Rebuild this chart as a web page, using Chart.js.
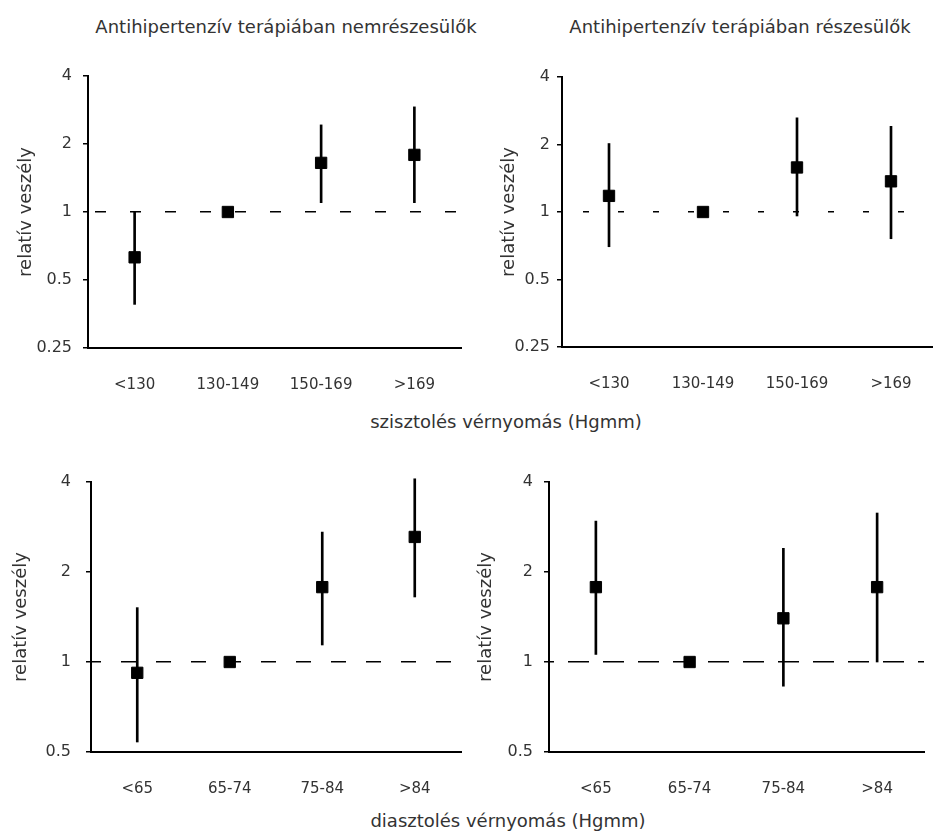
<!DOCTYPE html>
<html>
<head>
<meta charset="utf-8">
<script src="https://cdn.jsdelivr.net/npm/chart.js@4/dist/chart.umd.min.js"></script>
<style>
  html, body { margin: 0; padding: 0; background: #fff; overflow: hidden; }
  body { width: 933px; height: 835px; position: relative; font-family: "DejaVu Sans", sans-serif; color: #333; }
  .panel { position: absolute; }
  .label { position: absolute; white-space: nowrap; transform: translate(-50%, -50%); font-size: 18px; }
</style>
</head>
<body>
<div class="label" style="left:286px; top:26px;">Antihipertenzív terápiában nemrészesülők</div>
<div class="label" style="left:740px; top:26px;">Antihipertenzív terápiában részesülők</div>
<div class="label" style="left:506px; top:421px;">szisztolés vérnyomás (Hgmm)</div>
<div class="label" style="left:508px; top:820px;">diasztolés vérnyomás (Hgmm)</div>

<div class="panel" style="left:0; top:40px; width:470px; height:370px;"><canvas id="sys-untreated"></canvas></div>
<div class="panel" style="left:470px; top:40px; width:480px; height:370px;"><canvas id="sys-treated"></canvas></div>
<div class="panel" style="left:0; top:440px; width:470px; height:370px;"><canvas id="dia-untreated"></canvas></div>
<div class="panel" style="left:470px; top:440px; width:463px; height:370px;"><canvas id="dia-treated"></canvas></div>

<script>
const sysCategories = ["<130", "130-149", "150-169", ">169"];
const diaCategories = ["<65", "65-74", "75-84", ">84"];
const sysTicks = [0.25, 0.5, 1, 2, 4];
const diaTicks = [0.5, 1, 2, 4];

// relatív veszély, 95% CI (130-149 / 65-74 = referencia)
const sysUntreatedRR = [0.63, 1, 1.65, 1.79];
const sysUntreatedLow = [0.39, null, 1.10, 1.10];
const sysUntreatedHigh = [1.0, null, 2.43, 2.92];

const sysTreatedRR = [1.18, 1, 1.58, 1.37];
const sysTreatedLow = [0.70, null, 0.96, 0.76];
const sysTreatedHigh = [2.02, null, 2.63, 2.41];

const diaUntreatedRR = [0.92, 1, 1.78, 2.62];
const diaUntreatedLow = [0.54, null, 1.14, 1.65];
const diaUntreatedHigh = [1.52, null, 2.72, 4.1];

const diaTreatedRR = [1.78, 1, 1.40, 1.78];
const diaTreatedLow = [1.06, null, 0.83, 1.0];
const diaTreatedHigh = [2.96, null, 2.40, 3.15];

Chart.defaults.font.family = '"DejaVu Sans", sans-serif';
Chart.defaults.color = "#333";

function ranges(low, high) {
  return low.map((v, i) => (v === null ? null : [v, high[i]]));
}

function makePanel(id, cfg) {
  return new Chart(document.getElementById(id), {
    type: "bar",
    data: {
      labels: cfg.labels,
      datasets: [
        {
          type: "line",
          data: cfg.rr,
          showLine: false,
          pointStyle: "rect",
          pointRadius: 8,
          pointBorderWidth: 1,
          pointBackgroundColor: "#000",
          pointBorderColor: "#000",
          order: 0
        },
        {
          data: ranges(cfg.low, cfg.high),
          backgroundColor: "#000",
          barThickness: 2,
          borderWidth: 0,
          clip: false,
          order: 1
        }
      ]
    },
    options: {
      responsive: true,
      maintainAspectRatio: false,
      animation: false,
      layout: { padding: cfg.padding },
      plugins: { legend: { display: false }, tooltip: { enabled: false } },
      scales: {
        x: {
          afterFit: (scale) => { scale.height = 50; },
          grid: { display: false },
          border: { color: "#000", width: 2 },
          ticks: { color: "#333", font: { size: 15 }, padding: 20, maxRotation: 0, autoSkip: false }
        },
        y: {
          type: "logarithmic",
          min: cfg.ticks[0],
          max: cfg.ticks[cfg.ticks.length - 1],
          afterFit: (scale) => { scale.width = cfg.axisWidth; },
          afterBuildTicks: (scale) => { scale.ticks = cfg.ticks.map(value => ({ value })); },
          title: {
            display: true,
            text: "relatív veszély",
            color: "#333",
            font: { size: 18 },
            padding: { top: cfg.titleOffset, bottom: 0 }
          },
          grid: {
            color: (ctx) => (ctx.tick && ctx.tick.value === 1 ? "#000" : "rgba(0,0,0,0)"),
            lineWidth: 1.5,
            tickColor: "#000",
            tickWidth: 1.5,
            tickLength: 5
          },
          border: { color: "#000", width: 2, dash: cfg.dash, dashOffset: cfg.dashOffset },
          ticks: {
            color: "#333",
            font: { size: 16 },
            padding: cfg.tickPadding,
            callback: (value) => String(value)
          }
        }
      }
    }
  });
}

makePanel("sys-untreated", {
  labels: sysCategories, rr: sysUntreatedRR, low: sysUntreatedLow, high: sysUntreatedHigh,
  ticks: sysTicks, axisWidth: 88, titleOffset: 16, tickPadding: 11,
  padding: { top: 36, left: 0, right: 4, bottom: 12 },
  dash: [11, 24], dashOffset: 29
});

makePanel("sys-treated", {
  labels: sysCategories, rr: sysTreatedRR, low: sysTreatedLow, high: sysTreatedHigh,
  ticks: sysTicks, axisWidth: 92, titleOffset: 29, tickPadding: 7,
  padding: { top: 37, left: 0, right: 12, bottom: 13 },
  dash: [6, 29], dashOffset: 15
});

makePanel("dia-untreated", {
  labels: diaCategories, rr: diaUntreatedRR, low: diaUntreatedLow, high: diaUntreatedHigh,
  ticks: diaTicks, axisWidth: 91, titleOffset: 11, tickPadding: 15,
  padding: { top: 42, left: 0, right: 6, bottom: 8 },
  dash: [15, 20], dashOffset: 6
});

makePanel("dia-treated", {
  labels: diaCategories, rr: diaTreatedRR, low: diaTreatedLow, high: diaTreatedHigh,
  ticks: diaTicks, axisWidth: 79, titleOffset: 6, tickPadding: 11,
  padding: { top: 42, left: 0, right: 8, bottom: 8 },
  dash: [21, 14], dashOffset: 17
});
</script>
</body>
</html>
